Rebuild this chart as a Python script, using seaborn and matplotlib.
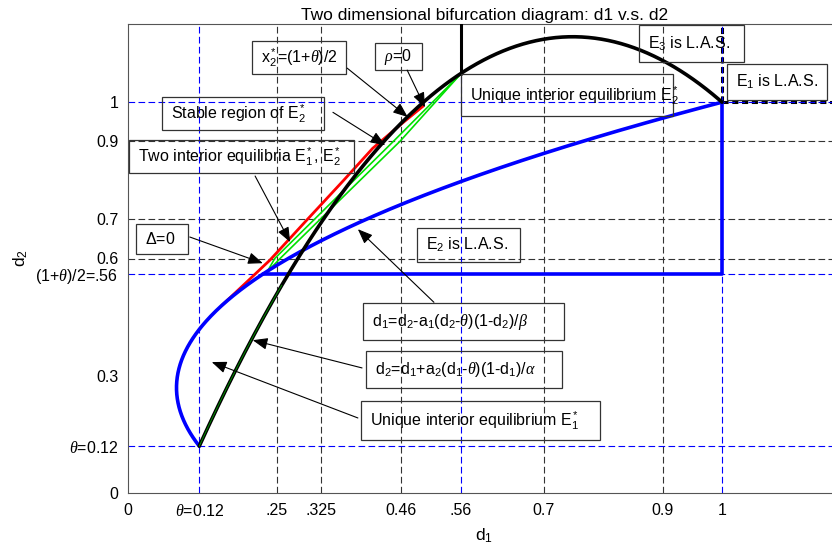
import numpy as np
import matplotlib
matplotlib.use("Agg")
import matplotlib.pyplot as plt
import seaborn as sns
from matplotlib.patches import Rectangle

# ---- model parameters -------------------------------------------------
theta = 0.12
a1_over_beta = 1.72    # d1 = d2 - a1 (d2-theta)(1-d2)/beta
a2_over_alpha = 2.65   # d2 = d1 + a2 (d1-theta)(1-d1)/alpha

# ---- boundaries read as point lists ------------------------------------
# Delta = 0 boundary
red_d1 = [0.158, 0.2, 0.239, 0.302, 0.363, 0.412, 0.46, 0.497]
red_d2 = [0.48, 0.54, 0.596, 0.7, 0.8, 0.882, 0.944, 0.99]

# stability boundaries of E2* (x2* = (1+theta)/2 and rho = 0)
green1_d1 = [0.234, 0.247, 0.447, 0.56]
green1_d2 = [0.565, 0.6, 0.9, 1.072]
green2_d1 = [0.234, 0.256, 0.458, 0.56]
green2_d2 = [0.565, 0.6, 0.9, 1.072]

# ---- ticks and reference lines ----------------------------------------
xticks = [0, 0.12, 0.25, 0.325, 0.46, 0.56, 0.7, 0.9, 1]
xticklabels = ["0", r"$\theta$=0.12", ".25", ".325", "0.46", ".56", "0.7", "0.9", "1"]
yticks = [0, 0.12, 0.3, 0.56, 0.6, 0.7, 0.9, 1]
yticklabels = ["0", r"$\theta$=0.12", "0.3", r"(1+$\theta$)/2=.56", "0.6", "0.7", "0.9", "1"]

blue_ref = [0.12, 0.56, 1.0]
black_ref_x = [0.25, 0.325, 0.46, 0.7, 0.9]
black_ref_y = [0.6, 0.7, 0.9]

# ---- style --------------------------------------------------------------
sns.set_style("white")
plt.rcParams["font.family"] = ["Liberation Sans", "DejaVu Sans"]
plt.rcParams["mathtext.fontset"] = "custom"
plt.rcParams["mathtext.rm"] = "Liberation Sans"
plt.rcParams["mathtext.sf"] = "Liberation Sans"
plt.rcParams["mathtext.it"] = "Liberation Serif:italic"
plt.rcParams["mathtext.bf"] = "Liberation Sans:bold"
for key in ["text.color", "axes.labelcolor", "xtick.color", "ytick.color"]:
    plt.rcParams[key] = "black"

fig = plt.figure(figsize=(8.32, 5.5), dpi=100)
ax = fig.add_axes([128 / 832, 57 / 550, 712.8 / 832, 469 / 550])
ax.set_xlim(0, 1.2)
ax.set_ylim(0, 1.2)


def line(x, y, **kw):
    sns.lineplot(x=x, y=y, sort=False, estimator=None, ax=ax, **kw)


# reference lines
for v in black_ref_x:
    ax.axvline(v, color="#333333", lw=0.8, dashes=(6, 3), zorder=1)
for v in black_ref_y:
    ax.axhline(v, color="#333333", lw=0.8, dashes=(6, 3), zorder=1)
for v in blue_ref:
    ax.axvline(v, color="blue", lw=0.8, dashes=(6, 3), zorder=1.6)
    ax.axhline(v, color="blue", lw=0.8, dashes=(6, 3), zorder=1.6)

# E2 boundary: d1 = d2 - a1(d2-theta)(1-d2)/beta
d2s = np.linspace(theta, 1.0, 400)
d1_blue = d2s - a1_over_beta * (d2s - theta) * (1 - d2s)
line(d1_blue, d2s, color="blue", lw=2.6, zorder=3)
half = (1 + theta) / 2
d1_half = half - a1_over_beta * (half - theta) * (1 - half)
line([d1_half, 1.0, 1.0], [half, half, 1.0], color="blue", lw=2.6, zorder=3)

# E1 boundary: d2 = d1 + a2(d1-theta)(1-d1)/alpha
d1s = np.linspace(theta, 1.0, 400)
d2_black = d1s + a2_over_alpha * (d1s - theta) * (1 - d1s)
line(d1s, d2_black, color="black", lw=2.6, zorder=4)
top_056 = 0.56 + a2_over_alpha * (0.56 - theta) * (1 - 0.56)
line([0.56, 0.56], [top_056, 1.2], color="black", lw=2.2, zorder=4)
line([1.0, 1.0], [1.0, 1.2], color="black", lw=2.2, dashes=(2, 1.2), zorder=1.4)
line([1.0, 1.2], [1.0, 1.0], color="black", lw=2.2, dashes=(2, 1.2), zorder=1.4)

# thin green trace along the lower part of the E1 boundary
mask = d1s <= 0.26
line(d1s[mask], d2_black[mask], color="#00a000", lw=0.6, zorder=4.5)

# Delta = 0 and stability boundaries
line(red_d1, red_d2, color="red", lw=2.0, zorder=2.5)
line(green1_d1, green1_d2, color="#00e000", lw=1.2, zorder=2.8)
line(green2_d1, green2_d2, color="#00e000", lw=1.2, zorder=2.8)

# ---- annotation boxes ---------------------------------------------------
fs = 11.5
boxes = [
    (r"x$_2^*$=(1+$\theta$)/2", (0.209, 1.072, 0.367, 1.156)),
    (r"$\rho$=0", (0.416, 1.082, 0.495, 1.151)),
    (r"Stable region of E$_2^*$", (0.057, 0.928, 0.330, 1.013)),
    (r"Two interior equilibria E$_1^*$, E$_2^*$", (0.002, 0.818, 0.380, 0.903)),
    (r"$\Delta$=0", (0.013, 0.611, 0.101, 0.688)),
    (r"d$_1$=d$_2$-a$_1$(d$_2$-$\theta$)(1-d$_2$)/$\beta$", (0.396, 0.391, 0.734, 0.486)),
    (r"d$_2$=d$_1$+a$_2$(d$_1$-$\theta$)(1-d$_1$)/$\alpha$", (0.401, 0.269, 0.731, 0.363)),
    (r"Unique interior equilibrium E$_1^*$", (0.392, 0.136, 0.795, 0.235)),
    (r"Unique interior equilibrium E$_2^*$", (0.561, 0.964, 0.918, 1.072)),
    (r"E$_3$ is L.A.S.", (0.860, 1.102, 1.037, 1.197)),
    (r"E$_1$ is L.A.S.", (1.008, 1.005, 1.177, 1.097)),
    (r"E$_2$ is L.A.S.", (0.487, 0.591, 0.660, 0.678)),
]
for txt, (x0, y0, x1, y1) in boxes:
    ax.add_patch(Rectangle((x0, y0), x1 - x0, y1 - y0, fill=False,
                           edgecolor="#333333", lw=0.9, zorder=6))
    ax.text(x0 + 0.015, (y0 + y1) / 2, txt, ha="left", va="center",
            fontsize=fs, zorder=7)

arrows = [
    ((0.369, 1.087), (0.471, 0.962)),
    ((0.470, 1.082), (0.500, 0.987)),
    ((0.345, 0.974), (0.433, 0.890)),
    ((0.214, 0.811), (0.273, 0.642)),
    ((0.104, 0.655), (0.227, 0.588)),
    ((0.515, 0.488), (0.387, 0.675)),
    ((0.394, 0.320), (0.210, 0.391)),
    ((0.387, 0.192), (0.141, 0.335)),
]
for tail, head in arrows:
    ax.annotate("", xy=head, xytext=tail,
                arrowprops=dict(arrowstyle="-|>,head_length=0.75,head_width=0.3",
                                color="black", lw=0.8, shrinkA=0, shrinkB=0,
                                mutation_scale=12),
                zorder=8)

# ---- axes ---------------------------------------------------------------
ax.set_xticks(xticks)
ax.set_xticklabels(xticklabels, fontsize=fs)
ax.set_yticks(yticks)
ax.set_yticklabels(yticklabels, fontsize=fs)
ax.tick_params(direction="in", length=4, width=0.8, color="#444444", pad=7)
for side in ["left", "bottom", "top"]:
    ax.spines[side].set_color("#555555")
    ax.spines[side].set_linewidth(0.8)
ax.spines["right"].set_visible(False)
ax.set_xlabel("d$_1$", fontsize=12.5, labelpad=6)
ax.set_ylabel("d$_2$", fontsize=12.5, labelpad=4)
ax.set_title("Two dimensional bifurcation diagram: d1 v.s. d2", fontsize=12.5, pad=3)

fig.savefig("out.png", dpi=100)
